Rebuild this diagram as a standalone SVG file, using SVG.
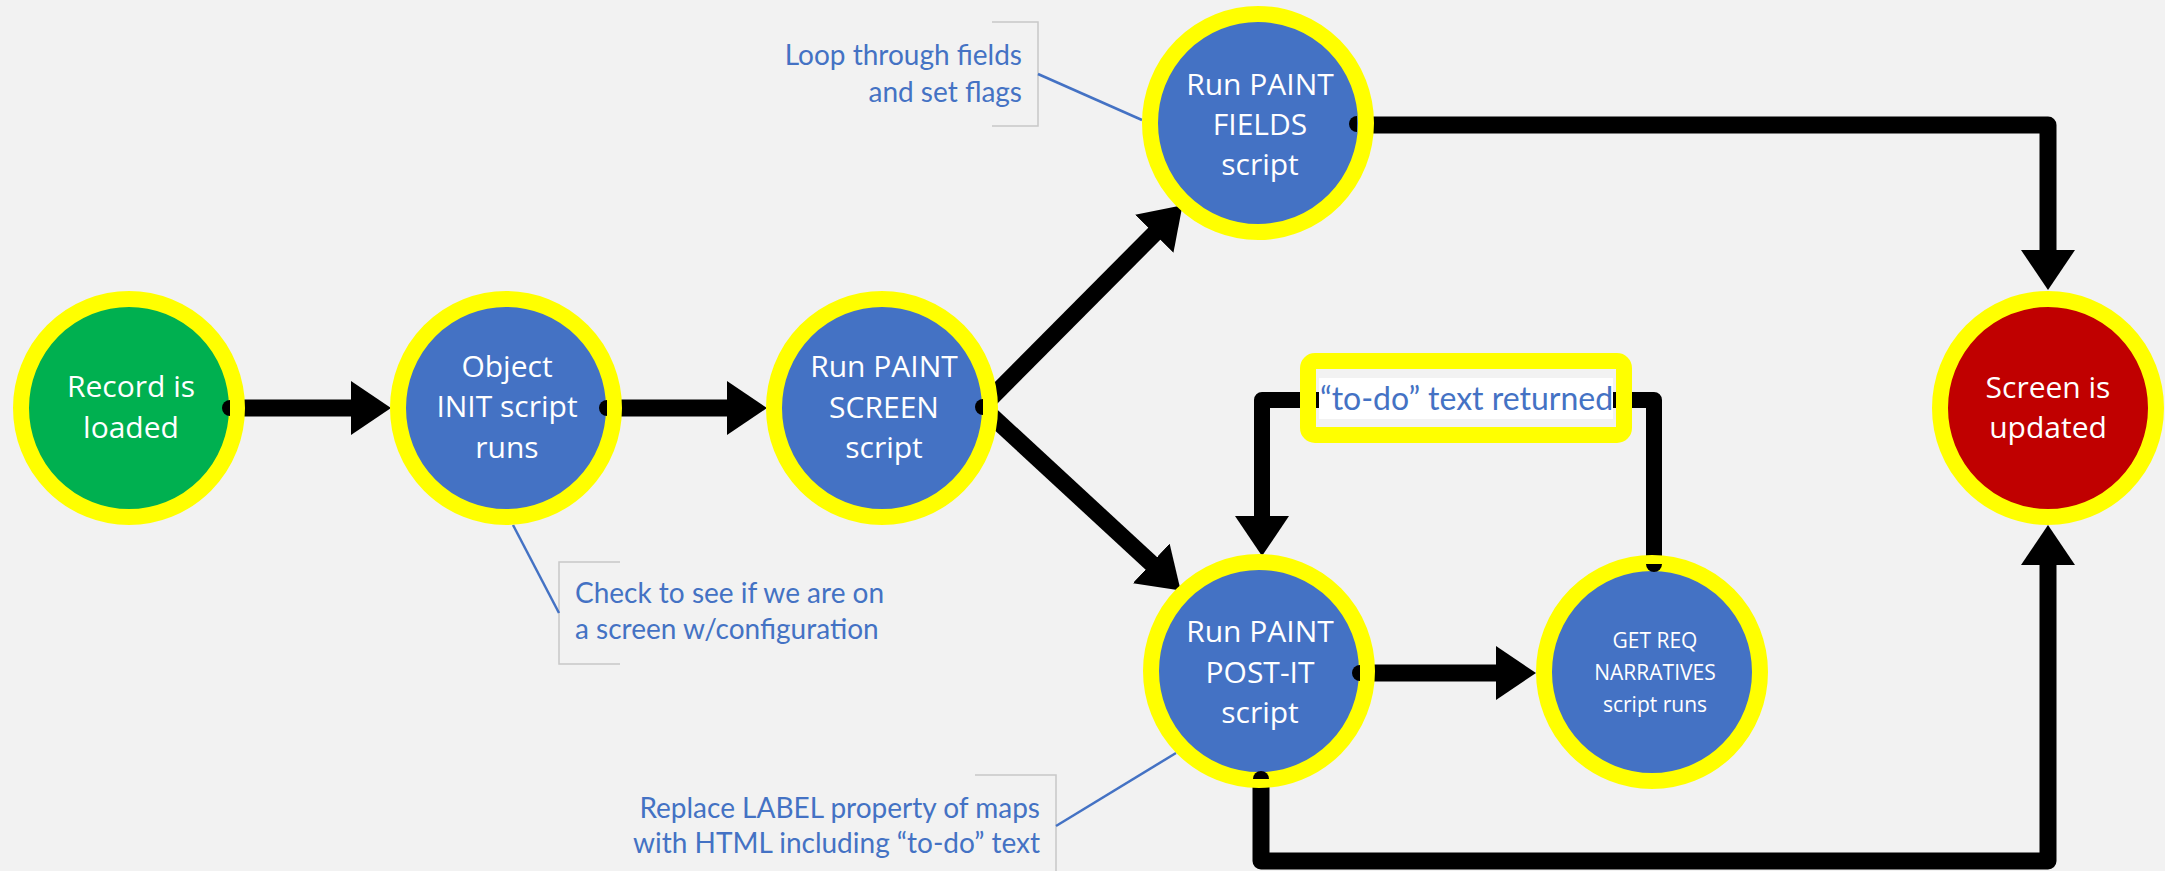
<svg xmlns="http://www.w3.org/2000/svg" width="2165" height="871" viewBox="0 0 2165 871">
<style>
.bg{fill:#f2f2f2}
.ring{stroke:#ffff00;stroke-width:16}
.g{fill:#00b050}.b{fill:#4472c4}.r{fill:#c00000}
.nt{font-family:"Open Sans","Liberation Sans",sans-serif;font-size:30px;fill:#ffffff;text-anchor:middle}
.st{font-family:"Open Sans","Liberation Sans",sans-serif;font-size:21px;fill:#ffffff;text-anchor:middle}
.ct{font-family:Lato,"Liberation Sans",sans-serif;font-size:28px;fill:#4472c4}
.lt{font-family:Lato,"Liberation Sans",sans-serif;font-size:32px;fill:#4472c4}
.con{fill:none;stroke:#000;stroke-width:17;stroke-linejoin:round}
.loop{fill:none;stroke:#000;stroke-width:16;stroke-linejoin:round}
.br{fill:none;stroke:#c8c8c8;stroke-width:1.5}
.cl{fill:none;stroke:#4472c4;stroke-width:2.5}
.dot{fill:#000}
</style>
<defs>
<marker id="ah" viewBox="0 -27 40 54" refX="1" refY="0" markerWidth="40" markerHeight="54" markerUnits="userSpaceOnUse" orient="auto">
<path d="M0,-27 L40,0 L0,27 Z" fill="#000"/>
</marker>
</defs>
<rect class="bg" x="0" y="0" width="2165" height="871"/>

<g id="connectors">
<path class="con" d="M229,408 H352" marker-end="url(#ah)"/>
<path class="con" d="M606,408 H728" marker-end="url(#ah)"/>
<path class="con" d="M982,407 L1155,233" marker-end="url(#ah)"/>
<path class="con" d="M982,407 L1152,564" marker-end="url(#ah)"/>
<path class="con" d="M1356,125 H2048 V251" marker-end="url(#ah)"/>
<path class="con" d="M1362,673 H1497" marker-end="url(#ah)"/>
<path class="loop" d="M1654,573 V400 H1262 V517" marker-end="url(#ah)"/>
<path class="con" d="M1261,771 V861 H2048 V564" marker-end="url(#ah)"/>
</g>

<g id="callout-fields">
<path class="br" d="M992,22 H1038 V126 H992"/>
<path class="cl" d="M1038,74 L1142,120"/>
<text class="ct" text-anchor="end" x="1022" y="65">Loop through fields</text>
<text class="ct" text-anchor="end" x="1022" y="102">and set flags</text>
</g>

<g id="callout-init">
<path class="br" d="M620,562 H559 V664 H620"/>
<path class="cl" d="M513,525 L559,613"/>
<text class="ct" x="575" y="603">Check to see if we are on</text>
<text class="ct" x="575" y="639">a screen w/configuration</text>
</g>

<g id="callout-postit">
<path class="br" d="M975,775 H1056 V871"/>
<path class="cl" d="M1056,826 L1176,753"/>
<text class="ct" text-anchor="end" x="1040" y="818">Replace LABEL property of maps</text>
<text class="ct" text-anchor="end" x="1040" y="853">with HTML including “to-do” text</text>
</g>

<g id="label-todo">
<rect x="1308" y="361" width="316" height="74" rx="7" fill="none" stroke="#ffff00" stroke-width="16"/>
<rect x="1319" y="378" width="294" height="41" fill="#ffffff"/>
<text class="lt" x="1320" y="410">“to-do” text returned</text>
</g>

<g id="node-record">
<ellipse class="g ring" cx="129" cy="408" rx="108" ry="109"/>
<text class="nt" x="131" y="397">Record is</text>
<text class="nt" x="131" y="438">loaded</text>
</g>

<g id="node-init">
<ellipse class="b ring" cx="506" cy="408" rx="108" ry="109"/>
<text class="nt" x="507" y="377">Object</text>
<text class="nt" x="507" y="417">INIT script</text>
<text class="nt" x="507" y="458">runs</text>
</g>

<g id="node-screen">
<ellipse class="b ring" cx="882" cy="408" rx="108" ry="109"/>
<text class="nt" x="884" y="377">Run PAINT</text>
<text class="nt" x="884" y="418">SCREEN</text>
<text class="nt" x="884" y="458">script</text>
</g>

<g id="node-fields">
<ellipse class="b ring" cx="1258" cy="123" rx="108" ry="109"/>
<text class="nt" x="1260" y="95">Run PAINT</text>
<text class="nt" x="1260" y="135">FIELDS</text>
<text class="nt" x="1260" y="175">script</text>
</g>

<g id="node-postit">
<ellipse class="b ring" cx="1259" cy="671" rx="108" ry="109"/>
<text class="nt" x="1260" y="642">Run PAINT</text>
<text class="nt" x="1260" y="683">POST-IT</text>
<text class="nt" x="1260" y="723">script</text>
</g>

<g id="node-getreq">
<ellipse class="b ring" cx="1652" cy="672" rx="108" ry="109"/>
<text class="st" x="1655" y="648">GET REQ</text>
<text class="st" x="1655" y="680">NARRATIVES</text>
<text class="st" x="1655" y="712">script runs</text>
</g>

<g id="node-updated">
<ellipse class="r ring" cx="2048" cy="408" rx="108" ry="109"/>
<text class="nt" x="2048" y="398">Screen is</text>
<text class="nt" x="2048" y="438">updated</text>
</g>

<g id="connector-ends">
<path class="dot" d="M230,400 A8,8 0 0 0 230,416 Z"/>
<path class="dot" d="M607,400 A8,8 0 0 0 607,416 Z"/>
<path class="dot" d="M983,399 A8,8 0 0 0 983,415 Z"/>
<path class="dot" d="M1357,116 A8,8 0 0 0 1357,132 Z"/>
<path class="dot" d="M1360,665 A8,8 0 0 0 1360,681 Z"/>
<path class="dot" d="M1646,564 A8,8 0 0 0 1662,564 Z"/>
<path class="dot" d="M1253,779 A8,8 0 0 1 1269,779 Z"/>
</g>
</svg>
